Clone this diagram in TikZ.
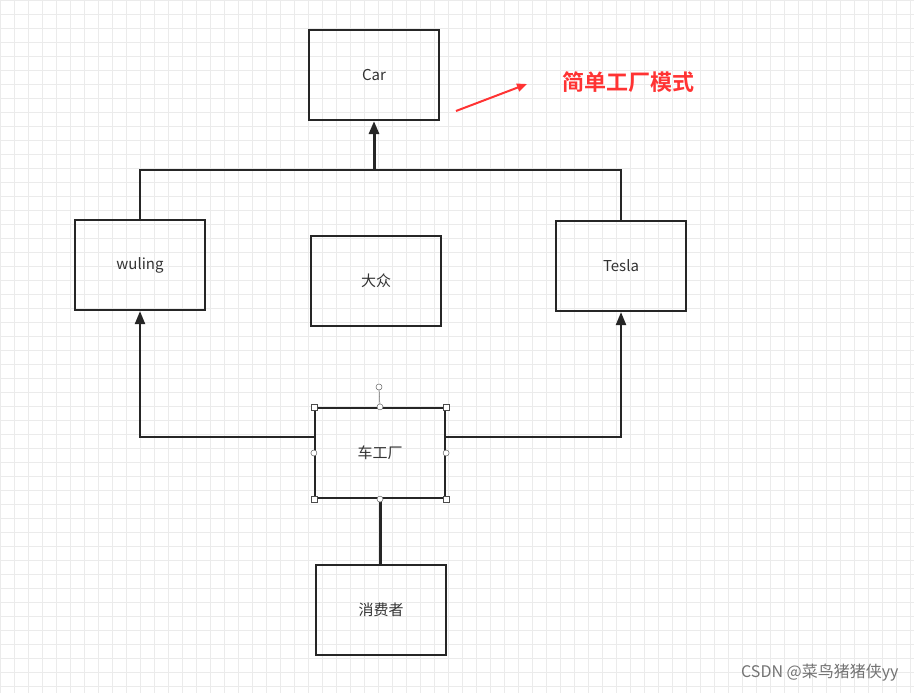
\documentclass[tikz,border=0pt]{standalone}
\usepackage{fontspec}
\setmainfont{Liberation Sans}
\newfontfamily\cjk{Noto Sans CJK SC}
\newfontfamily\cjkb{Noto Sans CJK SC Bold}
\usetikzlibrary{arrows.meta}
\begin{document}
\begin{tikzpicture}[x=1pt,y=-1pt,
  box/.style={draw=black!85,line width=2.2pt,minimum width=130pt,minimum height=90pt,inner sep=0pt,font=\cjk\fontsize{15}{17}\selectfont,text=black!80},
  con/.style={draw=black!85,line width=2.2pt},
  arr/.style={con,-{Triangle[length=13pt,width=10pt]}},
  hsq/.style={draw=black!70,fill=white,line width=0.5pt,minimum size=6pt,inner sep=0pt},
  hci/.style={circle,draw=black!60,fill=white,line width=0.5pt,minimum size=6pt,inner sep=0pt}]
\useasboundingbox (0,0) rectangle (914,693);
\fill[white] (0,0) rectangle (914,693);
\draw[black!8,line width=0.4pt,step=14pt] (0,0) grid (914,693);
\node[box] (car) at (374,75) {Car};
\node[box] (wul) at (140,265) {wuling};
\node[box] (dz) at (376,281) {大众};
\node[box] (tes) at (621,266) {Tesla};
\node[box] (fac) at (380,453) {车工厂};
\node[box] (con) at (381,610) {消费者};
\coordinate (j) at (374,170);
\draw[con] (wul.north) |- (j) -| (tes.north);
\draw[arr,line width=3pt] (j) -- (car.south);
\draw[arr] (fac.west |- 0,437) -| (wul.south);
\draw[arr] (fac.east |- 0,437) -| (tes.south);
\draw[con,line width=3pt] (fac.south) -- (fac.south |- con.north);
\node[text=red!80,font=\cjkb\fontsize{22}{24}\selectfont] (t) at (628,82) {简单工厂模式};
\coordinate (a0) at (456,111);
\coordinate (a1) at (527,84);
\draw[red!80,line width=2pt,-{Triangle[length=10pt,width=8pt]}] (a0) -- (a1);
% selection handles
\coordinate (rot) at (379,387);
\draw[black!60,line width=0.5pt] (fac.north) -- (rot);
\node[hci] (h0) at (rot) {};
\foreach \a in {north west,north east,south west,south east}{\node[hsq] at (fac.\a) {};}
\foreach \a in {north,south,east,west}{\node[hci] at (fac.\a) {};}
\node[text=black!55,font=\cjk\fontsize{16}{18}\selectfont,anchor=east] (wm) at (902,673) {CSDN @菜鸟猪猪侠yy};
\end{tikzpicture}
\end{document}
